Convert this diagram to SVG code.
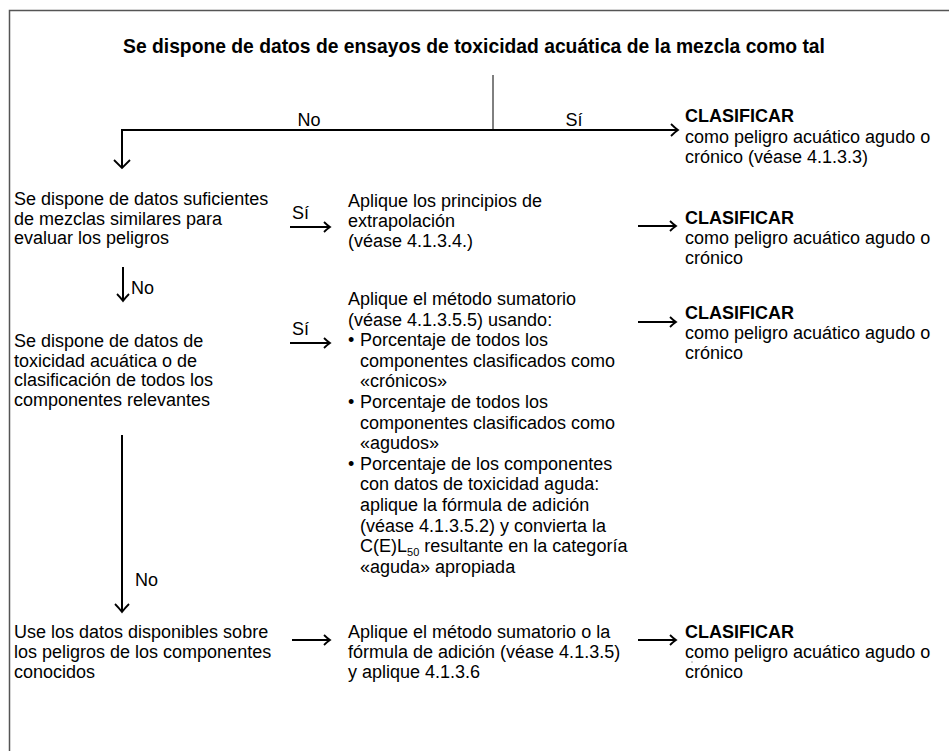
<svg xmlns="http://www.w3.org/2000/svg" width="949" height="751" viewBox="0 0 949 751">
<style>
text{font-family:"Liberation Sans",Arial,sans-serif;font-size:18px;fill:#000}
.t{font-size:19.3px;font-weight:bold}
.b{font-weight:bold}
.c{fill:none;stroke:#000;stroke-width:2}
.h{fill:none;stroke:#000;stroke-width:1.8;stroke-linejoin:miter}
.thin{fill:none;stroke:#000;stroke-width:1}
</style>
<rect x="9.5" y="10.5" width="960" height="760" fill="#fff" stroke="#555" stroke-width="1.5"/>
<g id="title"><text class="t" x="474" y="53" text-anchor="middle">Se dispone de datos de ensayos de toxicidad acuática de la mezcla como tal</text></g>
<g id="connectors">
<line class="thin" x1="493" y1="75" x2="493" y2="130"/>
<path class="c" d="M122,168 V130 H677"/>
<path class="h" d="M671,124 Q675,128 678,130 Q675,132 671,136"/>
<path class="h" d="M114,160 L122,168 L130,160"/>
<text x="309" y="126" text-anchor="middle">No</text>
<text x="574" y="126" text-anchor="middle">Sí</text>
<line class="c" x1="290" y1="227" x2="329" y2="227"/>
<path class="h" d="M324,222 Q327,225 330,227 Q327,229 324,232"/>
<text x="292" y="219">Sí</text>
<line class="c" x1="638" y1="226" x2="675" y2="226"/>
<path class="h" d="M670,221 Q673,224 676,226 Q673,228 670,231"/>
<line class="c" x1="123" y1="267" x2="123" y2="300"/>
<path class="h" d="M117,294 Q120,297 123,301 Q126,297 129,294"/>
<text x="131" y="294">No</text>
<line class="c" x1="290" y1="343" x2="329" y2="343"/>
<path class="h" d="M324,338 Q327,341 330,343 Q327,345 324,348"/>
<text x="292" y="335">Sí</text>
<line class="c" x1="638" y1="322" x2="675" y2="322"/>
<path class="h" d="M670,317 Q673,320 676,322 Q673,324 670,327"/>
<line class="c" x1="122" y1="435" x2="122" y2="611"/>
<path class="h" d="M115,604 Q119,608 122,612 Q125,608 129,604"/>
<text x="135" y="586">No</text>
<line class="c" x1="292" y1="640" x2="329" y2="640"/>
<path class="h" d="M324,635 Q327,638 330,640 Q327,642 324,645"/>
<line class="c" x1="638" y1="640" x2="675" y2="640"/>
<path class="h" d="M670,635 Q673,638 676,640 Q673,642 670,645"/>
</g>
<g id="classify1"><text class="b" x="685" y="122">CLASIFICAR</text><text x="685" y="143">como peligro acuático agudo o</text><text x="685" y="163">crónico (véase 4.1.3.3)</text></g>
<g id="similar"><text x="14" y="205">Se dispone de datos suficientes</text><text x="14" y="224.5">de mezclas similares para</text><text x="14" y="244">evaluar los peligros</text></g>
<g id="extrapolation"><text x="348" y="207">Aplique los principios de</text><text x="348" y="227">extrapolación</text><text x="348" y="247">(véase 4.1.3.4.)</text></g>
<g id="classify2"><text class="b" x="685" y="224">CLASIFICAR</text><text x="685" y="244">como peligro acuático agudo o</text><text x="685" y="264">crónico</text></g>
<g id="components"><text x="14" y="347">Se dispone de datos de</text><text x="14" y="366.5">toxicidad acuática o de</text><text x="14" y="386">clasificación de todos los</text><text x="14" y="405.5">componentes relevantes</text></g>
<g id="summation">
<text x="348" y="305">Aplique el método sumatorio</text>
<text x="348" y="325.6">(véase 4.1.3.5.5) usando:</text>
<text x="348" y="346.2">•</text><text x="360" y="346.2">Porcentaje de todos los</text>
<text x="360" y="366.8">componentes clasificados como</text>
<text x="360" y="387.4">«crónicos»</text>
<text x="348" y="408">•</text><text x="360" y="408">Porcentaje de todos los</text>
<text x="360" y="428.6">componentes clasificados como</text>
<text x="360" y="449.2">«agudos»</text>
<text x="348" y="469.8">•</text><text x="360" y="469.8">Porcentaje de los componentes</text>
<text x="360" y="490.4">con datos de toxicidad aguda:</text>
<text x="360" y="511">aplique la fórmula de adición</text>
<text x="360" y="531.6">(véase 4.1.3.5.2) y convierta la</text>
<text x="360" y="552.2">C(E)L<tspan font-size="11" dy="4">50</tspan><tspan dy="-4"> resultante en la categoría</tspan></text>
<text x="360" y="572.8">«aguda» apropiada</text>
</g>
<g id="classify3"><text class="b" x="685" y="319">CLASIFICAR</text><text x="685" y="339">como peligro acuático agudo o</text><text x="685" y="359">crónico</text></g>
<g id="known"><text x="14" y="638">Use los datos disponibles sobre</text><text x="14" y="658">los peligros de los componentes</text><text x="14" y="678">conocidos</text></g>
<g id="sumadd"><text x="348" y="638">Aplique el método sumatorio o la</text><text x="348" y="658">fórmula de adición (véase 4.1.3.5)</text><text x="348" y="678">y aplique 4.1.3.6</text></g>
<g id="classify4"><text class="b" x="685" y="638">CLASIFICAR</text><text x="685" y="658">como peligro acuático agudo o</text><text x="685" y="678">crónico</text></g>
<circle cx="692" cy="662" r="0.8" fill="#999"/>
</svg>
